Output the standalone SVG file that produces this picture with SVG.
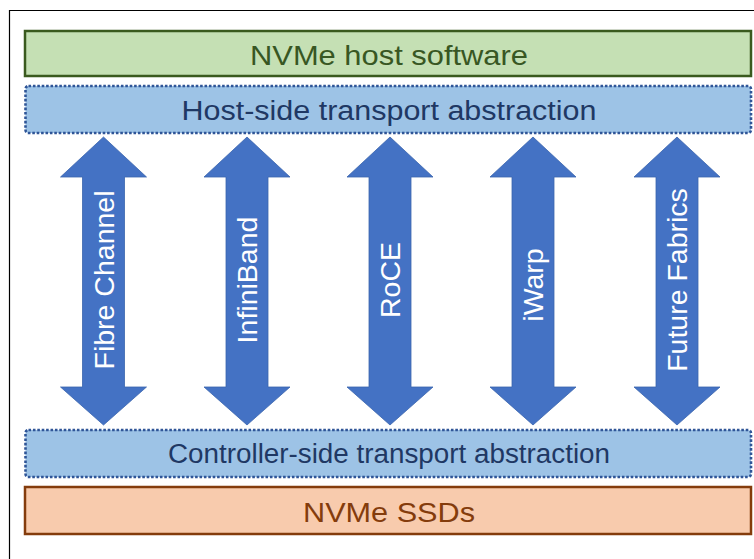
<svg xmlns="http://www.w3.org/2000/svg" width="754" height="559" viewBox="0 0 754 559">
<style>
.lbl{font-family:"Liberation Sans",Arial,sans-serif;text-anchor:middle}
.green{fill:#c5e0b4;stroke:#3a5a1e;stroke-width:2.5}
.blue{fill:#9dc3e6;stroke:#2f5597;stroke-width:2.6;stroke-dasharray:2.6 1.8}
.orange{fill:#f8cbad;stroke:#843c0c;stroke-width:2.5}
.arrow{fill:#4472c4;stroke:#3a64ad;stroke-width:0.8}
.atext{font-family:"Liberation Sans",Arial,sans-serif;font-size:28.5px;fill:#ffffff;text-anchor:middle}
</style>
<defs>
<path id="darrow" d="M0,137 L43,177 L21,177 L21,387 L43,387 L0,425 L-43,387 L-21,387 L-21,177 L-43,177 Z"/>
</defs>
<rect x="0" y="0" width="754" height="559" fill="#ffffff"/>
<path d="M9.5,559 L9.5,10.5 L754,10.5" fill="none" stroke="#000" stroke-width="1.2"/>
<g id="host-software">
<rect class="green" x="25" y="31" width="726" height="45"/>
<text class="lbl" x="389" y="65" font-size="28" fill="#385723" textLength="278" lengthAdjust="spacingAndGlyphs">NVMe host software</text>
</g>
<g id="host-transport">
<rect class="blue" x="25.5" y="86" width="725.5" height="47" rx="3"/>
<text class="lbl" x="389" y="120" font-size="27" fill="#1f3864" textLength="415" lengthAdjust="spacingAndGlyphs">Host-side transport abstraction</text>
</g>
<g id="connectors">
<g id="fibre-channel">
<use href="#darrow" class="arrow" transform="translate(103.5,0)"/>
<text class="atext" transform="translate(113.5,280) rotate(-90)">Fibre Channel</text>
</g>
<g id="infiniband">
<use href="#darrow" class="arrow" transform="translate(247,0)"/>
<text class="atext" transform="translate(257,280) rotate(-90)">InfiniBand</text>
</g>
<g id="roce">
<use href="#darrow" class="arrow" transform="translate(390,0)"/>
<text class="atext" transform="translate(400,280) rotate(-90)">RoCE</text>
</g>
<g id="iwarp">
<use href="#darrow" class="arrow" transform="translate(533,0)"/>
<text class="atext" transform="translate(543,285) rotate(-90)">iWarp</text>
</g>
<g id="future-fabrics">
<use href="#darrow" class="arrow" transform="translate(677,0)"/>
<text class="atext" transform="translate(687,280) rotate(-90)">Future Fabrics</text>
</g>
</g>
<g id="controller-transport">
<rect class="blue" x="25.5" y="430" width="725.5" height="47" rx="3"/>
<text class="lbl" x="389" y="463" font-size="27" fill="#1f3864" textLength="442" lengthAdjust="spacingAndGlyphs">Controller-side transport abstraction</text>
</g>
<g id="nvme-ssds">
<rect class="orange" x="25" y="487" width="726" height="47"/>
<text class="lbl" x="389" y="522" font-size="28" fill="#843c0c" textLength="172" lengthAdjust="spacingAndGlyphs">NVMe SSDs</text>
</g>
</svg>
